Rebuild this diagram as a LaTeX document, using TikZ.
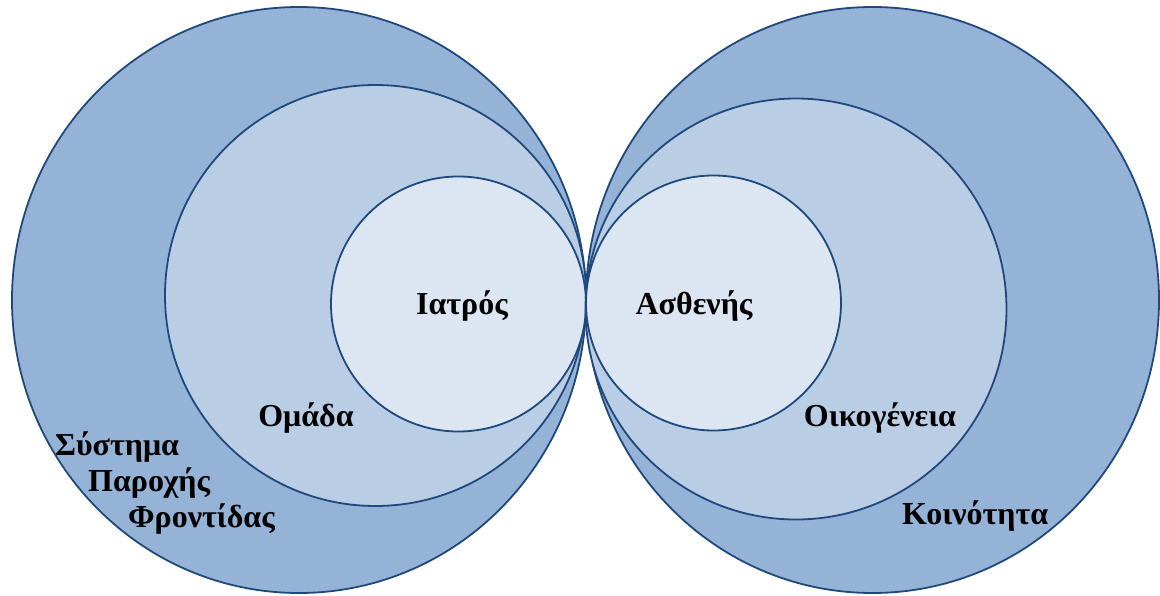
\documentclass[tikz,border=0pt]{standalone}
\usepackage{fontspec}
\setmainfont{Liberation Serif}
\definecolor{outerfill}{HTML}{95B3D7}
\definecolor{midfill}{HTML}{B9CDE5}
\definecolor{innerfill}{HTML}{DCE6F2}
\definecolor{ringline}{HTML}{1F497D}
\tikzset{
  ring/.style={draw=ringline, line width=1.8pt},
  outerring/.style={ring, fill=outerfill},
  midring/.style={ring, fill=midfill},
  innerring/.style={ring, fill=innerfill},
  lbl/.style={font=\fontsize{32}{38}\selectfont\bfseries, text=black, inner sep=0pt}
}
\begin{document}
\begin{tikzpicture}[x=1pt,y=-1pt]
\useasboundingbox (0,0) rectangle (1160,596);
% left group
\draw[outerring] (299,300) ellipse [x radius=287pt, y radius=293pt];
\draw[midring] (375.5,295.5) circle (210.5pt);
\draw[innerring] (458.5,304) circle (127.5pt);
% right group
\draw[outerring] (872.5,300) ellipse [x radius=286.5pt, y radius=293pt];
\draw[midring] (796,309) circle (210.5pt);
\draw[innerring] (713.5,303) circle (127.5pt);
% labels
\node[lbl] (iatros) at (462,306) {Ιατρός};
\node[lbl] (asthenis) at (694,306) {Ασθενής};
\node[lbl] (omada) at (306,418) {Ομάδα};
\node[lbl] (oikogeneia) at (880,418) {Οικογένεια};
\node[lbl, anchor=base west] (systima) at (55,455) {Σύστημα};
\node[lbl, anchor=base west] (parochis) at (88,491) {Παροχής};
\node[lbl, anchor=base west] (frontidas) at (128,527) {Φροντίδας};
\node[lbl, anchor=base west] (koinotita) at (902,524) {Κοινότητα};
\end{tikzpicture}
\end{document}
